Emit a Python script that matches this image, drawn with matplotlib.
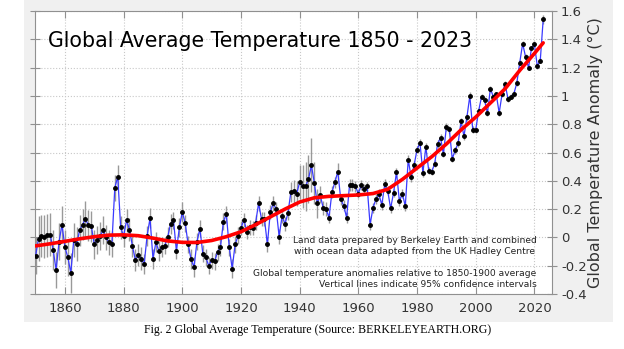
import matplotlib
matplotlib.use("Agg")
import matplotlib.pyplot as plt
from matplotlib.patches import Rectangle
import numpy as np

# annual anomalies 1850-2023 (deg C, vs 1850-1900)
years = np.arange(1850, 2024)
anom = [
    -0.13, -0.01, 0.01, 0.005, 0.015, 0.02, -0.09, -0.23, -0.03, 0.09,        # 1850s
    -0.07, -0.14, -0.25, -0.02, -0.05, 0.05, 0.09, 0.13, 0.085, 0.08,         # 1860s
    -0.05, -0.02, 0.01, 0.05, 0.0, -0.035, -0.045, 0.35, 0.43, 0.07,          # 1870s
    0.01, 0.12, 0.055, -0.06, -0.16, -0.125, -0.15, -0.19, 0.01, 0.135,       # 1880s
    -0.15, -0.035, -0.095, -0.07, -0.06, 0.0, 0.095, 0.12, -0.095, 0.07,      # 1890s
    0.18, 0.10, -0.05, -0.155, -0.21, -0.03, 0.06, -0.115, -0.14, -0.20,      # 1900s
    -0.16, -0.17, -0.105, -0.07, 0.11, 0.165, -0.07, -0.22, -0.05, 0.01,      # 1910s
    0.065, 0.125, 0.04, 0.07, 0.065, 0.105, 0.24, 0.13, 0.13, -0.05,          # 1920s
    0.18, 0.24, 0.20, 0.006, 0.15, 0.096, 0.17, 0.32, 0.325, 0.31,            # 1930s
    0.39, 0.36, 0.36, 0.41, 0.51, 0.385, 0.24, 0.30, 0.21, 0.20,              # 1940s
    0.14, 0.32, 0.39, 0.465, 0.27, 0.225, 0.14, 0.37, 0.37, 0.36,             # 1950s
    0.31, 0.37, 0.34, 0.36, 0.09, 0.21, 0.27, 0.305, 0.23, 0.375,             # 1960s
    0.33, 0.205, 0.315, 0.46, 0.255, 0.31, 0.22, 0.55, 0.425, 0.51,           # 1970s
    0.62, 0.67, 0.455, 0.64, 0.47, 0.465, 0.52, 0.66, 0.705, 0.59,            # 1980s
    0.78, 0.765, 0.555, 0.615, 0.665, 0.82, 0.715, 0.85, 1.0, 0.76,           # 1990s
    0.76, 0.895, 0.995, 0.97, 0.88, 1.05, 0.995, 1.01, 0.88, 1.015,           # 2000s
    1.085, 0.98, 0.995, 1.015, 1.09, 1.235, 1.37, 1.275, 1.20, 1.335,         # 2010s
    1.365, 1.21, 1.25, 1.54,                                                  # 2020s
]
# 95% confidence half-widths
err = [
    0.13, 0.16, 0.15, 0.15, 0.15, 0.15, 0.14, 0.13, 0.13, 0.13,
    0.12, 0.13, 0.14, 0.12, 0.12, 0.11, 0.11, 0.13, 0.11, 0.11,
    0.10, 0.10, 0.10, 0.10, 0.09, 0.09, 0.09, 0.09, 0.08, 0.08,
    0.08, 0.08, 0.08, 0.08, 0.08, 0.08, 0.08, 0.07, 0.07, 0.07,
    0.07, 0.07, 0.07, 0.07, 0.06, 0.07, 0.07, 0.06, 0.06, 0.07,
    0.07, 0.06, 0.06, 0.07, 0.07, 0.06, 0.06, 0.06, 0.06, 0.06,
    0.06, 0.06, 0.06, 0.06, 0.06, 0.06, 0.06, 0.07, 0.06, 0.06,
    0.05, 0.05, 0.05, 0.05, 0.05, 0.05, 0.05, 0.05, 0.05, 0.05,
    0.05, 0.05, 0.05, 0.05, 0.05, 0.05, 0.05, 0.07, 0.08, 0.09,
    0.12, 0.15, 0.17, 0.17, 0.19, 0.15, 0.10, 0.06, 0.05, 0.05,
    0.04, 0.04, 0.04, 0.06, 0.04, 0.04, 0.04, 0.04, 0.04, 0.04,
    0.035, 0.035, 0.035, 0.035, 0.035, 0.035, 0.035, 0.035, 0.035, 0.035,
    0.03, 0.03, 0.03, 0.03, 0.03, 0.03, 0.03, 0.03, 0.03, 0.03,
    0.025, 0.025, 0.025, 0.025, 0.025, 0.025, 0.025, 0.025, 0.025, 0.025,
    0.025, 0.025, 0.025, 0.025, 0.025, 0.025, 0.025, 0.025, 0.025, 0.025,
    0.02, 0.02, 0.02, 0.02, 0.02, 0.02, 0.02, 0.02, 0.02, 0.02,
    0.02, 0.02, 0.02, 0.02, 0.02, 0.02, 0.02, 0.02, 0.02, 0.02,
    0.02, 0.02, 0.02, 0.03,
]
# smoothed trend (red), read every 5 years
trend_years = [1850, 1855, 1860, 1865, 1870, 1875, 1880, 1885, 1890, 1895,
               1900, 1905, 1910, 1915, 1920, 1925, 1930, 1935, 1940, 1945,
               1950, 1955, 1960, 1965, 1970, 1975, 1980, 1985, 1990, 1995,
               2000, 2005, 2010, 2015, 2020, 2023]
trend = [-0.06, -0.045, -0.028, -0.01, 0.005, 0.016, 0.018, 0.012, -0.005, -0.025,
         -0.035, -0.036, -0.022, 0.005, 0.04, 0.09, 0.145, 0.20, 0.25, 0.28,
         0.29, 0.295, 0.30, 0.31, 0.34, 0.41, 0.49, 0.57, 0.66, 0.76,
         0.85, 0.95, 1.05, 1.18, 1.30, 1.375]

xticks = [1860, 1880, 1900, 1920, 1940, 1960, 1980, 2000, 2020]
yticks = [-0.4, -0.2, 0, 0.2, 0.4, 0.6, 0.8, 1.0, 1.2, 1.4, 1.6]
ylabels = ["-0.4", "-0.2", "0", "0.2", "0.4", "0.6", "0.8", "1", "1.2", "1.4", "1.6"]

fig = plt.figure(figsize=(6.24, 3.49), dpi=100)
fig.patch.set_facecolor("white")
# grey panel behind the chart image
fig.add_artist(Rectangle((24 / 624, 1 - 322 / 349), (613 - 24) / 624, 322 / 349,
                         transform=fig.transFigure, facecolor="#f0f0f0",
                         edgecolor="none", zorder=-10))

ax = fig.add_axes([35 / 624, 1 - 294 / 349, (552 - 35) / 624, (294 - 11) / 349])
ax.set_zorder(1)
ax.set_facecolor("white")

ax.vlines(years, np.array(anom) - np.array(err), np.array(anom) + np.array(err),
          color="#999999", lw=1.0, zorder=2)
ax.plot(years, anom, color="#3a3aff", lw=0.9, zorder=3)
ax.plot(years, anom, "o", color="black", ms=2.5, zorder=4)
ax.plot(trend_years, trend, color="#ff0000", lw=2.6, zorder=5, solid_capstyle="round")

ax.set_xlim(1849.8, 2026)
ax.set_ylim(-0.4, 1.6)
ax.set_xticks(xticks)
ax.set_yticks(yticks)
ax.set_yticklabels(ylabels)
ax.grid(True, linestyle=":", color="#c8c8c8", lw=0.8)
ax.set_axisbelow(True)

for sp in ax.spines.values():
    sp.set_color("#909090")
ax.tick_params(axis="x", direction="in", top=True, bottom=True, length=5,
               color="#909090", labelsize=9.5, labelcolor="#333333", pad=6)
ax.tick_params(axis="y", direction="inout", left=True, right=True, labelleft=False,
               labelright=True, length=7, color="#909090", labelsize=9.5,
               labelcolor="#333333", pad=3)
ax.yaxis.set_label_position("right")
ax.set_ylabel("Global Temperature Anomaly (\u00b0C)", fontsize=11.5, color="#333333",
              labelpad=1)

ax.text(0.025, 0.93, "Global Average Temperature 1850 - 2023", transform=ax.transAxes,
        fontsize=14.8, color="black", ha="left", va="top")

ax.text(0.97, 0.205, "Land data prepared by Berkeley Earth and combined\n"
        "with ocean data adapted from the UK Hadley Centre",
        transform=ax.transAxes, fontsize=6.6, color="#222222", ha="right", va="top",
        multialignment="center", linespacing=1.35)
ax.text(0.97, 0.09, "Global temperature anomalies relative to 1850-1900 average\n"
        "Vertical lines indicate 95% confidence intervals",
        transform=ax.transAxes, fontsize=6.6, color="#222222", ha="right", va="top",
        multialignment="right", linespacing=1.35)

fig.text(318 / 624, 1 - 330 / 349, "Fig. 2 Global Average Temperature (Source: BERKELEYEARTH.ORG)",
         family="Liberation Serif", fontsize=8.6, ha="center", va="center", color="black")

fig.savefig("out.png", dpi=100, facecolor="white")
